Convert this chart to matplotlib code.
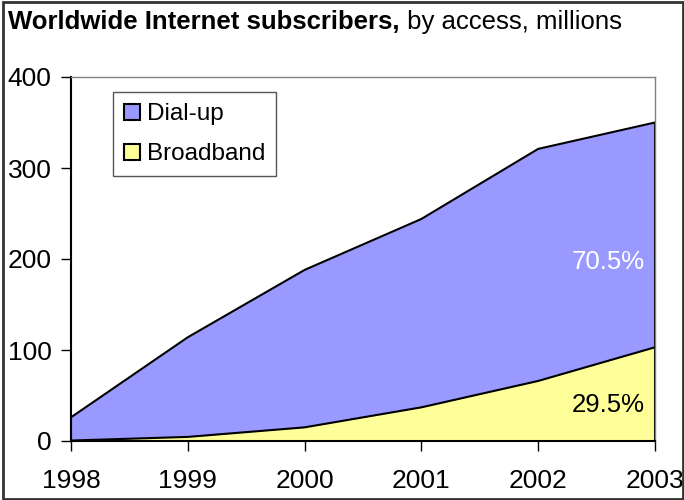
import matplotlib.pyplot as plt
from matplotlib.patches import Patch, Rectangle

plt.rcParams['font.family'] = ['Liberation Sans', 'DejaVu Sans']

years = [1998, 1999, 2000, 2001, 2002, 2003]
broadband = [0.5, 4.5, 15, 37, 66, 103]
dialup = [25.5, 109.5, 173, 207, 255, 247]
share_labels = ['70.5%', '29.5%']

dial_color = '#9999ff'
broad_color = '#ffff99'

fig = plt.figure(figsize=(6.84, 5.0), dpi=100)
ax = fig.add_axes([71 / 684, 59 / 500, 584 / 684, 364 / 500])

total = [b + d for b, d in zip(broadband, dialup)]
ax.fill_between(years, 0, broadband, color=broad_color, lw=0)
ax.fill_between(years, broadband, total, color=dial_color, lw=0)
ax.plot(years, broadband, color='black', lw=1.5)
ax.plot(years, total, color='black', lw=1.5)
ax.plot([years[-1], years[-1]], [0, total[-1]], color='black', lw=1.5)
ax.plot([years[0], years[0]], [0, total[0]], color='black', lw=1.5)

ax.set_xlim(years[0], years[-1])
ax.set_ylim(0, 400)
ax.set_xticks(years)
ax.set_yticks(range(0, 401, 100))
ax.tick_params(labelsize=19, length=7, width=1)
ax.tick_params(axis='y', pad=7)
ax.tick_params(axis='x', pad=13)

for side in ['top', 'right']:
    ax.spines[side].set_color('#808080')
    ax.spines[side].set_linewidth(1)
for side in ['left', 'bottom']:
    ax.spines[side].set_linewidth(1.5)

ax.text(2002.91, 197, share_labels[0], color='white', fontsize=18.5,
        ha='right', va='center')
ax.text(2002.91, 39.5, share_labels[1], color='black', fontsize=18.5,
        ha='right', va='center')

handles = [Patch(facecolor=dial_color, edgecolor='black', lw=1.5, label='Dial-up'),
           Patch(facecolor=broad_color, edgecolor='black', lw=1.5, label='Broadband')]
leg = ax.legend(handles=handles, loc='upper left', bbox_to_anchor=(0.072, 0.958),
                fontsize=17.5, fancybox=False, edgecolor='#555555', framealpha=1,
                handlelength=0.65, handleheight=0.65, handletextpad=0.3,
                labelspacing=0.75, borderpad=0.45, borderaxespad=0)
leg.get_frame().set_linewidth(1)

title = fig.text(8 / 684, 1 - 22 / 500, 'Worldwide Internet subscribers,', fontsize=18.5,
                 fontweight='bold', va='center', ha='left')
ax.annotate(' by access, millions', xy=(1, 0.5), xycoords=title, fontsize=18.5,
            va='center', ha='left', annotation_clip=False)

fig.patches.append(Rectangle((0.005, 0.002), 0.993, 0.995, transform=fig.transFigure,
                             fill=False, edgecolor='#333333', lw=2))

fig.savefig('out.png', dpi=100)
